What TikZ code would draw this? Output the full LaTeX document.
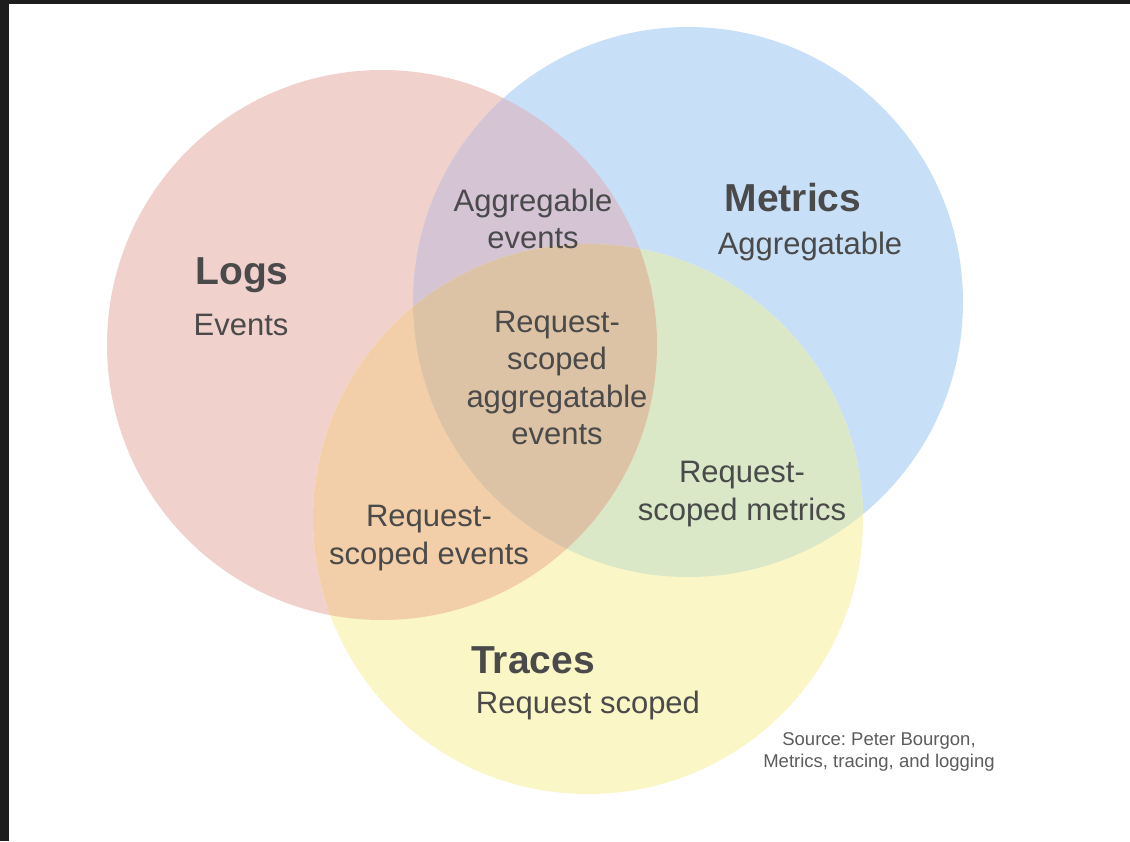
\documentclass[tikz,border=0pt]{standalone}
\usepackage{fontspec}
\setmainfont{Liberation Sans}
\frenchspacing
\definecolor{framec}{HTML}{1D1D1D}
\definecolor{logc}{HTML}{F1D1CC}
\definecolor{metc}{HTML}{C7E0F8}
\definecolor{trc}{HTML}{FBF6C6}
\definecolor{lmc}{HTML}{D4C4D4}
\definecolor{ltc}{HTML}{F2CFA8}
\definecolor{mtc}{HTML}{DAE8C8}
\definecolor{lmtc}{HTML}{DDC3A6}
\definecolor{inkc}{HTML}{4A4A4A}
\tikzset{
  title/.style={text=inkc, font=\fontsize{39}{46}\selectfont\bfseries, inner sep=0pt},
  label/.style={text=inkc, font=\fontsize{31}{37.5}\selectfont, align=center, inner sep=0pt},
  note/.style={text=inkc!90, font=\fontsize{18.5}{22}\selectfont, align=center, inner sep=0pt}
}
\begin{document}
\begin{tikzpicture}[x=1pt, y=-1pt]
  \useasboundingbox (0,0) rectangle (1130,841);
  \fill[white] (0,0) rectangle (1130,841);
  % dark window frame on top and left
  \fill[framec] (0,0) rectangle (1130,4);
  \fill[framec] (0,0) rectangle (9,841);

  % circle centres
  \coordinate (L) at (382,345);
  \coordinate (M) at (688,302);
  \coordinate (T) at (588,519);
  \def\rad{275}

  % single sets
  \fill[logc] (L) circle (\rad);
  \fill[metc] (M) circle (\rad);
  \fill[trc]  (T) circle (\rad);
  % pairwise overlaps
  \begin{scope}
    \clip (L) circle (\rad);
    \fill[lmc] (M) circle (\rad);
    \fill[ltc] (T) circle (\rad);
  \end{scope}
  \begin{scope}
    \clip (M) circle (\rad);
    \fill[mtc] (T) circle (\rad);
  \end{scope}
  % triple overlap
  \begin{scope}
    \clip (L) circle (\rad);
    \clip (M) circle (\rad);
    \fill[lmtc] (T) circle (\rad);
  \end{scope}

  % set titles and descriptions
  \node[title] (logs) at (242,275) {Logs};
  \node[label] (logsd) at (241,325) {Events};
  \node[title] (metrics) at (793,198) {Metrics};
  \node[label] (metricsd) at (810,246) {Aggregatable};
  \node[title] (traces) at (533,660) {Traces};
  \node[label] (tracesd) at (588,705) {Request scoped};

  % overlap labels
  \node[label] (lm) at (533,219) {Aggregable\\events};
  \node[label] (lmt) at (557,378) {Request-\\scoped\\aggregatable\\events};
  \node[label] (mt) at (742,494) {Request-\\scoped metrics};
  \node[label] (lt) at (429,538) {Request-\\scoped events};

  % source note
  \node[note] (src) at (879,752) {Source: Peter Bourgon,\\Metrics, tracing, and logging};
\end{tikzpicture}
\end{document}
